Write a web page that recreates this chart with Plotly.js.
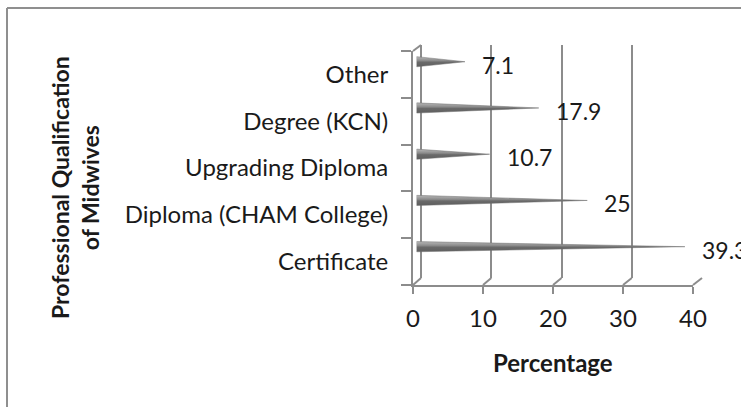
<!DOCTYPE html>
<html>
<head>
<meta charset="utf-8">
<script src="https://cdn.plot.ly/plotly-3.0.1.min.js"></script>
<style>
  html, body { margin: 0; padding: 0; background: #ffffff; }
  #chart { width: 741px; height: 407px; }
</style>
</head>
<body>
<div id="chart"></div>
<script>
// Professional qualification of midwives (percent of respondents)
var categories = ['Certificate', 'Diploma (CHAM College)', 'Upgrading Diploma', 'Degree (KCN)', 'Other'];
var percentages = [39.3, 25, 10.7, 17.9, 7.1];
var xTickValues = [0, 10, 20, 30, 40];
var xTitle = 'Percentage';
var yTitle = 'Professional Qualification<br>of Midwives';

var W = 741, H = 407;
function px(x) { return x / W; }
function py(y) { return 1 - y / H; }

var FONT = 'Lato, "Open Sans", sans-serif';
var GRID = '#8c8c8c';
var TEXT = '#1a1a1a';

// front frame, back wall and the plane the cones sit in
var front = { x0: 413, x1: 693, yTop: 51, yBot: 285 };
var back = { x0: 421, x1: 702, yTop: 45, yBot: 278 };
var cone = { x0: 416.5, x1: 689.7, yTop: 38.6, yBot: 269.8 };
var coneHalf = 0.11;

var traces = [];

// invisible anchor so the category axis lists every qualification
traces.push({
  type: 'scatter', mode: 'markers', x: percentages, y: categories,
  xaxis: 'x', yaxis: 'y', marker: { opacity: 0 }, hoverinfo: 'skip', showlegend: false
});

// back wall subplot (carries the vertical gridlines)
traces.push({
  type: 'scatter', mode: 'markers', x: percentages, y: percentages.map(function () { return 0.5; }),
  xaxis: 'x2', yaxis: 'y2', marker: { opacity: 0 }, hoverinfo: 'skip', showlegend: false
});

// one cone per qualification, drawn as a shaded wedge
percentages.forEach(function (v, i) {
  traces.push({
    type: 'scatter', mode: 'lines',
    x: [0, v, 0, 0],
    y: [i - coneHalf, i, i + coneHalf, i - coneHalf],
    xaxis: 'x3', yaxis: 'y3',
    fill: 'toself',
    line: { width: 0.5, color: '#6e6e6e' },
    fillgradient: {
      type: 'vertical',
      colorscale: [[0, '#5e5e5e'], [0.45, '#6a6a6a'], [0.6, '#8a8a8a'], [1, '#b8b8b8']]
    },
    hoverinfo: 'skip', showlegend: false
  });
});

var annotations = percentages.map(function (v, i) {
  return {
    xref: 'x3', yref: 'y3', x: v, y: i, text: String(v),
    xanchor: 'left', yanchor: 'middle', xshift: 15, yshift: -3,
    showarrow: false, font: { family: FONT, size: 23, color: TEXT }
  };
});

annotations.push({
  xref: 'paper', yref: 'paper', x: px(553), y: py(362), text: '<b>' + xTitle + '</b>',
  xanchor: 'center', yanchor: 'middle', showarrow: false,
  font: { family: FONT, size: 24, color: TEXT }
});
annotations.push({
  xref: 'paper', yref: 'paper', x: px(75), y: py(188), text: '<b>' + yTitle + '</b>',
  xanchor: 'center', yanchor: 'middle', showarrow: false, textangle: -90,
  font: { family: FONT, size: 23, color: TEXT }
});

// floor edges joining the front ticks to the back wall
var shapes = [];
xTickValues.forEach(function (t) {
  var fx = front.x0 + (front.x1 - front.x0) * t / 40;
  var bx = back.x0 + (back.x1 - back.x0) * t / 40;
  shapes.push({
    type: 'line', xref: 'paper', yref: 'paper',
    x0: px(fx), y0: py(front.yBot), x1: px(bx), y1: py(back.yBot),
    line: { color: GRID, width: 2 }
  });
});
shapes.push({
  type: 'line', xref: 'paper', yref: 'paper',
  x0: px(front.x0), y0: py(front.yTop), x1: px(back.x0), y1: py(back.yTop),
  line: { color: GRID, width: 2 }
});
// chart area border
shapes.push({
  type: 'line', xref: 'paper', yref: 'paper',
  x0: px(7), y0: py(8), x1: 1.05, y1: py(8), line: { color: '#8f8f8f', width: 2 }
});
shapes.push({
  type: 'line', xref: 'paper', yref: 'paper',
  x0: px(7), y0: py(8), x1: px(7), y1: -0.05, line: { color: '#8f8f8f', width: 2 }
});

var layout = {
  width: W, height: H,
  margin: { l: 0, r: 0, t: 0, b: 0 },
  paper_bgcolor: '#ffffff', plot_bgcolor: 'rgba(0,0,0,0)',
  showlegend: false,
  xaxis: {
    domain: [px(front.x0), px(front.x1)], range: [0, 40], anchor: 'y',
    tickvals: xTickValues, ticks: 'outside', ticklen: 7, tickwidth: 2, tickcolor: GRID,
    showline: true, linecolor: GRID, linewidth: 2, showgrid: false, zeroline: false,
    ticklabelstandoff: 4, automargin: false,
    tickfont: { family: FONT, size: 24, color: TEXT }
  },
  yaxis: {
    domain: [py(front.yBot), py(front.yTop)], anchor: 'x', type: 'category',
    categoryorder: 'array', categoryarray: categories, range: [-0.5, 4.5],
    ticks: 'outside', tickson: 'boundaries', ticklen: 10, tickwidth: 2, tickcolor: GRID,
    showline: true, linecolor: GRID, linewidth: 2, showgrid: false, zeroline: false,
    ticklabelstandoff: 18, automargin: false,
    tickfont: { family: FONT, size: 24, color: TEXT }
  },
  xaxis2: {
    domain: [px(back.x0), px(back.x1)], range: [0, 40], anchor: 'y2',
    tickvals: xTickValues, showticklabels: false, ticks: '',
    showgrid: true, gridcolor: GRID, gridwidth: 2,
    zeroline: true, zerolinecolor: GRID, zerolinewidth: 2, showline: false
  },
  yaxis2: {
    domain: [py(back.yBot), py(back.yTop)], range: [0, 1], anchor: 'x2',
    showticklabels: false, ticks: '', showgrid: false, zeroline: false, showline: false
  },
  xaxis3: {
    domain: [px(cone.x0), px(cone.x1)], range: [0, 40], anchor: 'y3',
    visible: false
  },
  yaxis3: {
    domain: [py(cone.yBot), py(cone.yTop)], range: [-0.5, 4.5], anchor: 'x3',
    visible: false
  },
  annotations: annotations,
  shapes: shapes
};

Plotly.newPlot('chart', traces, layout, { displayModeBar: false, staticPlot: true });
</script>
</body>
</html>
